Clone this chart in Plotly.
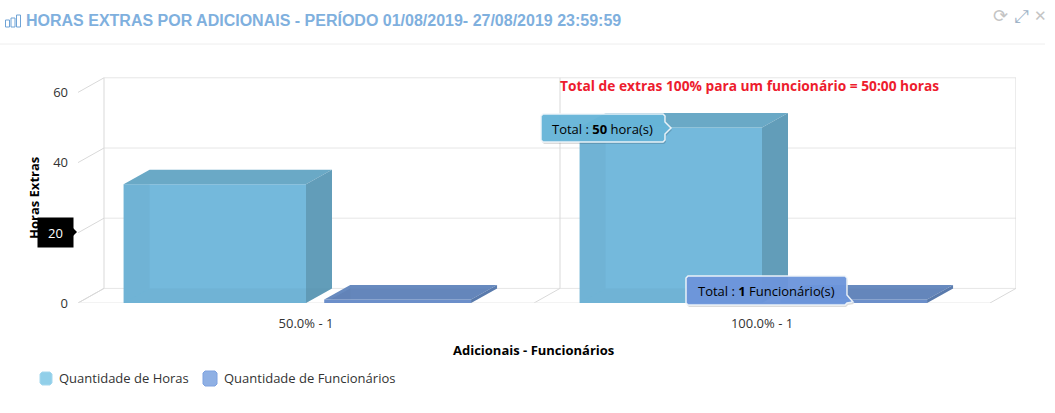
import plotly.graph_objects as go

# Dados
categorias = ["50.0% - 1", "100.0% - 1"]
horas = [33.8, 50]
funcionarios = [1, 1]
ticks_y = [0, 20, 40, 60]
series = ["Quantidade de Horas", "Quantidade de Funcionários"]

titulo = "HORAS EXTRAS POR ADICIONAIS - PERÍODO 01/08/2019- 27/08/2019 23:59:59"
aviso = "Total de extras 100% para um funcionário = 50:00 horas"

FONTE = "Open Sans"
ESQ, DIR, TOPO, BASE = 78, 1016, 77, 303   # area do grafico em pixels
PX_CAT = 456    # pixels por categoria
PX_VAL = 3.51   # pixels por unidade de y
DX = 26 / PX_CAT    # profundidade do efeito 3D
DY = 14.6 / PX_VAL


def xp(px):
    return (px - ESQ) / (DIR - ESQ)


def yp(py):
    return (BASE - py) / (BASE - TOPO)


def poligono(xs, ys, cor):
    return go.Scatter(
        x=xs, y=ys, mode="lines", fill="toself", fillcolor=cor,
        line=dict(width=0), hoverinfo="skip", showlegend=False
    )


def barra_3d(fig, valores, nome, inicio, largura, cor, topo, lado, junta):
    # frente pela barra normal, faces laterais a partir dos mesmos valores
    fig.add_trace(go.Bar(
        x=list(range(len(valores))), y=valores, width=largura, offset=inicio, name=nome,
        marker=dict(color=cor, line=dict(width=0)), showlegend=False, hoverinfo="skip"
    ))
    for i, v in enumerate(valores):
        x0 = i + inicio
        x1 = x0 + largura
        fig.add_trace(poligono([x0, x0 + DX, x1 + DX, x1], [v, v + DY, v + DY, v], topo))
        fig.add_trace(poligono([x1, x1 + DX, x1 + DX, x1], [0, DY, v + DY, v], lado))
        fig.add_trace(poligono([x0, x0 + DX, x0 + DX, x0], [0, DY, v, v], junta))
        fig.add_trace(poligono([x0, x1, x1 + DX, x0 + DX], [0, 0, DY, DY], junta))


fig = go.Figure()

barra_3d(fig, horas, series[0], -0.4, 0.4, "#74b9dc", "#6aa9c6", "#629db9", "rgba(80,140,160,0.11)")
barra_3d(fig, funcionarios, series[1], 0.04, 0.322, "#6f93cf", "#678abf", "#5b7daf", "rgba(60,90,140,0.06)")

# Planos de fundo: grade no fundo, diagonais ate a frente
x_fim = len(categorias) - 0.5
COR_GRADE = "#e6e6e6"
COR_BORDA = "#d9d9d9"
linhas = []
for t in ticks_y:
    linhas.append(dict(x0=-0.5, y0=t, x1=-0.5 + DX, y1=t + DY, color=COR_BORDA))
    linhas.append(dict(x0=-0.5 + DX, y0=t + DY, x1=x_fim + DX, y1=t + DY, color=COR_GRADE))
for i in range(len(categorias) + 1):
    linhas.append(dict(x0=i - 0.5 + DX, y0=DY, x1=i - 0.5 + DX, y1=60 + DY, color=COR_BORDA))
    linhas.append(dict(x0=i - 0.5, y0=0, x1=i - 0.5 + DX, y1=DY, color=COR_BORDA))
linhas.append(dict(x0=-0.5, y0=0, x1=x_fim, y1=0, color=COR_GRADE))
for l in linhas:
    fig.add_shape(
        type="line", x0=l["x0"], y0=l["y0"], x1=l["x1"], y1=l["y1"],
        line=dict(color=l["color"], width=1), layer="below"
    )

# Cabecalho
fig.add_shape(type="line", xref="paper", yref="paper", x0=xp(0), x1=xp(1045), y0=yp(44), y1=yp(44),
              line=dict(color="#eeeeee", width=1))
for x0, x1, y0 in [(5.5, 9.5, 20), (11, 15, 18), (16.5, 20.5, 15)]:
    fig.add_shape(type="rect", xref="paper", yref="paper", x0=xp(x0), x1=xp(x1), y0=yp(y0), y1=yp(27),
                  line=dict(color="#6fa3d6", width=1))


def caixa(pontos, cor, borda, largura=1.5):
    caminho = "M " + " L ".join(f"{xp(x)},{yp(y)}" for x, y in pontos) + " Z"
    fig.add_shape(type="path", xref="paper", yref="paper", path=caminho, fillcolor=cor,
                  line=dict(color=borda, width=largura), layer="above")


def balao(pontos, cor):
    # sombra e caixa do tooltip, em pixels
    caixa([(x + 1, y + 2) for x, y in pontos], "rgba(0,0,0,0.14)", "rgba(0,0,0,0)", 0)
    caixa(pontos, cor, "rgba(240,246,250,0.95)")


balao([(543, 114), (663, 114), (665, 116), (665, 122), (671, 128), (665, 134), (665, 140), (663, 142),
       (543, 142), (541, 140), (541, 116)], "rgba(103,181,217,0.96)")
balao([(688, 276), (845, 276), (847, 278), (847, 295), (853, 302), (847, 303), (845, 305),
       (688, 305), (686, 303), (686, 278)], "rgba(109,150,220,0.96)")
caixa([(73, 228), (77, 232), (73, 236)], "#000000", "rgba(0,0,0,0)", 0)

# Legenda com amostras arredondadas
for x0, x1, y0, y1, cor, borda in [(40, 52, 372, 385, "#91cfe9", "#a5d8ee"),
                                   (203, 217, 371, 386, "#8fb0e4", "#7ea2e0")]:
    fig.add_shape(type="path", xref="paper", yref="paper", fillcolor=cor, line=dict(color=borda, width=1),
                  path="M " + " L ".join(f"{xp(x)},{yp(y)}" for x, y in [
                      (x0 + 2, y0), (x1 - 2, y0), (x1, y0 + 2), (x1, y1 - 2),
                      (x1 - 2, y1), (x0 + 2, y1), (x0, y1 - 2), (x0, y0 + 2)]) + " Z")


def texto(x, y, txt, tam=13, cor="#333333", fonte=FONTE, xanchor="center", **kw):
    fig.add_annotation(
        xref="paper", yref="paper", x=xp(x), y=yp(y), text=txt, showarrow=False,
        xanchor=xanchor, yanchor="middle", font=dict(family=fonte, size=tam, color=cor), **kw
    )


texto(24, 20, f"<b>{titulo}</b>", 16, "#7fb0de", "Liberation Sans", "left")
texto(558, 86, f"<b>{aviso}</b>", 13.75, "#ed1c2e", FONTE, "left")
texto(34, 198, "<b>Horas Extras</b>", 13, "#000000", textangle=-90)
texto(533, 350, "<b>Adicionais - Funcionários</b>", 13, "#000000")
texto(57, 378, series[0], 13, "#333333", FONTE, "left")
texto(222, 378, series[1], 13, "#333333", FONTE, "left")
texto(602.5, 129, "Total : <b>50</b> hora(s)", 13, "#000000")
texto(766.5, 291, "Total : <b>1</b> Funcionário(s)", 13, "#000000")
texto(55.5, 232.5, "20", 13, "#ffffff", bgcolor="#000000", width=33, height=27, align="center")
texto(1000, 16, "⟳", 18, "#c4c4c4", "DejaVu Sans")
texto(1021, 16, "⤢", 18, "#9fb4c8", "DejaVu Sans")
texto(1040, 16, "✕", 15, "#c4c4c4", "DejaVu Sans")

fig.update_layout(
    width=1055,
    height=413,
    autosize=False,
    margin=dict(l=ESQ, r=1055 - DIR, t=TOPO, b=413 - BASE),
    paper_bgcolor="#ffffff",
    plot_bgcolor="#ffffff",
    barmode="overlay",
    showlegend=False,
    font=dict(family=FONTE, size=13, color="#333333"),
)
fig.update_xaxes(
    range=[-0.5, (DIR - ESQ) / PX_CAT - 0.5],
    tickvals=list(range(len(categorias))), ticktext=categorias,
    showgrid=False, zeroline=False, showline=False, ticks="", ticklabelstandoff=11,
    tickfont=dict(family=FONTE, size=13, color="#333333"), fixedrange=True
)
fig.update_yaxes(
    range=[0, (BASE - TOPO) / PX_VAL],
    tickvals=ticks_y, showgrid=False, zeroline=False, showline=False, ticks="",
    ticklabelstandoff=9, tickfont=dict(family=FONTE, size=13, color="#333333"), fixedrange=True
)

fig.write_html(
    "out.html",
    config={"displayModeBar": False},
    post_script="document.body.style.margin='0';document.body.style.overflow='hidden';"
)
